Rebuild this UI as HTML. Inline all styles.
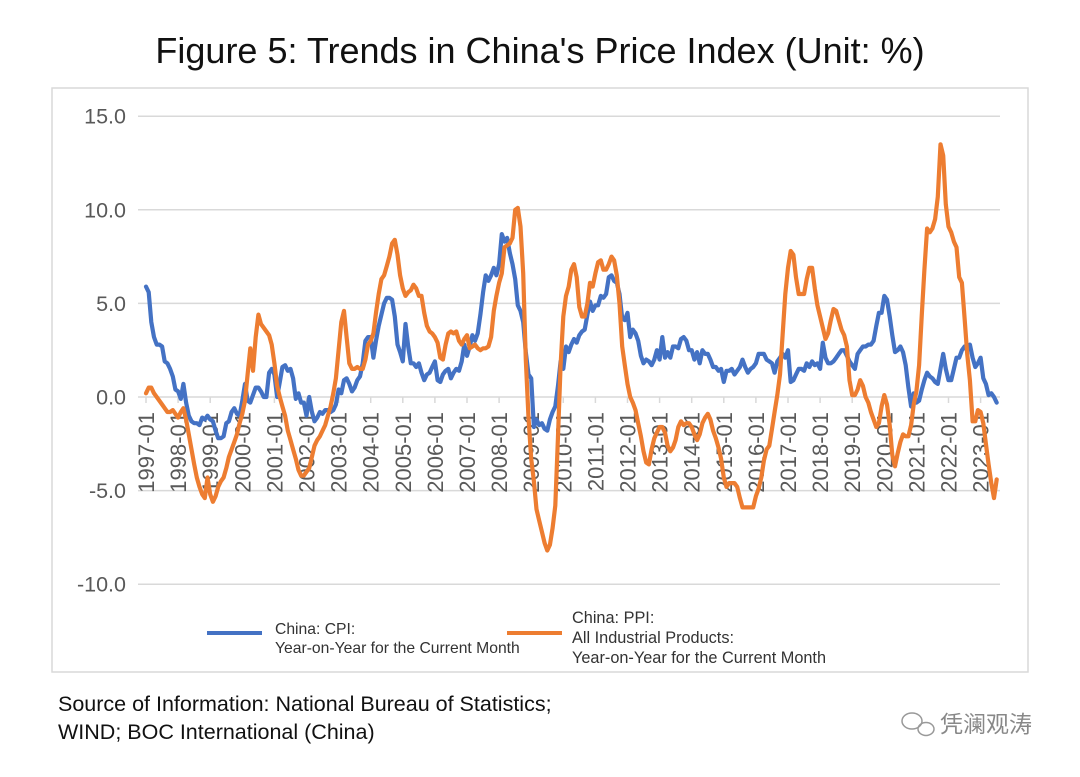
<!DOCTYPE html>
<html><head><meta charset="utf-8"><style>
body{margin:0;background:#fff;width:1080px;height:772px;overflow:hidden;font-family:"Liberation Sans",sans-serif;}
</style></head><body>
<svg id="c" width="1080" height="772" xmlns="http://www.w3.org/2000/svg">
<text x="540" y="63" text-anchor="middle" font-size="36" fill="#111">Figure 5: Trends in China's Price Index (Unit: %)</text>
<rect x="52" y="88" width="976" height="584" fill="none" stroke="#d9d9d9" stroke-width="1.5"/>
<g id="grid"></g><g id="yl"></g><g id="xl"></g><g id="series"></g>
<g>
<line x1="207" y1="633" x2="262" y2="633" stroke="#4472C4" stroke-width="4"/>
<text font-size="15.7" fill="#333"><tspan x="275" y="634">China: CPI:</tspan><tspan x="275" y="653">Year-on-Year for the Current Month</tspan></text>
<line x1="507" y1="633" x2="562" y2="633" stroke="#ED7D31" stroke-width="4"/>
<text font-size="16.3" fill="#333"><tspan x="572" y="623">China: PPI:</tspan><tspan x="572" y="643">All Industrial Products:</tspan><tspan x="572" y="663">Year-on-Year for the Current Month</tspan></text>
</g>
<text font-size="21.5" fill="#111"><tspan x="58" y="711">Source of Information: National Bureau of Statistics;</tspan><tspan x="58" y="739">WIND; BOC International (China)</tspan></text>
<g>
<ellipse cx="912" cy="721" rx="10" ry="8" fill="none" stroke="#999" stroke-width="1.5"/>
<ellipse cx="926" cy="729" rx="8" ry="6.5" fill="none" stroke="#999" stroke-width="1.5"/>
<text x="940" y="732" font-size="23" fill="#888" font-family="'Liberation Sans','Noto Sans CJK SC',sans-serif">凭澜观涛</text>
</g>
</svg>
<script>
const yTicks=[15,10,5,0,-5,-10];
const yTickLabels=["15.0","10.0","5.0","0.0","-5.0","-10.0"];
const xYears=[1997,1998,1999,2000,2001,2002,2003,2004,2005,2006,2007,2008,2009,2010,2011,2012,2013,2014,2015,2016,2017,2018,2019,2020,2021,2022,2023];
const cpi=[5.9,5.6,4.0,3.2,2.8,2.8,2.7,1.9,1.8,1.5,1.1,0.4,
0.3,-0.1,0.7,-0.3,-1.0,-1.3,-1.4,-1.4,-1.5,-1.1,-1.2,-1.0,
-1.2,-1.3,-1.8,-2.2,-2.2,-2.1,-1.4,-1.3,-0.8,-0.6,-0.9,-1.0,
-0.2,0.7,-0.2,-0.3,0.1,0.5,0.5,0.3,0.0,0.0,1.3,1.5,
1.2,0.0,0.8,1.6,1.7,1.4,1.5,1.0,-0.1,0.2,-0.3,-0.3,
-1.0,0.0,-0.8,-1.3,-1.1,-0.8,-0.9,-0.7,-0.7,-0.8,-0.7,-0.4,
0.4,0.2,0.9,1.0,0.7,0.3,0.5,0.9,1.1,1.8,3.0,3.2,
3.2,2.1,3.0,3.8,4.4,5.0,5.3,5.3,5.2,4.3,2.8,2.4,
1.9,3.9,2.7,1.8,1.8,1.6,1.8,1.3,0.9,1.2,1.3,1.6,
1.9,0.9,0.8,1.2,1.4,1.5,1.0,1.3,1.5,1.4,1.9,2.8,
2.2,2.7,3.3,3.0,3.4,4.4,5.6,6.5,6.2,6.5,6.9,6.5,
7.1,8.7,8.3,8.5,7.7,7.1,6.3,4.9,4.6,4.0,2.4,1.2,
1.0,-1.6,-1.2,-1.5,-1.4,-1.7,-1.8,-1.2,-0.8,-0.5,0.6,1.9,
1.5,2.7,2.4,2.8,3.1,2.9,3.3,3.5,3.6,4.4,5.1,4.6,
4.9,4.9,5.4,5.3,5.5,6.4,6.5,6.2,6.1,5.5,4.2,4.1,
4.5,3.2,3.6,3.4,3.0,2.2,1.8,2.0,1.9,1.7,2.0,2.5,
2.0,3.2,2.1,2.4,2.1,2.7,2.7,2.6,3.1,3.2,3.0,2.5,
2.5,2.0,2.4,1.8,2.5,2.3,2.3,2.0,1.6,1.6,1.4,1.5,
0.8,1.4,1.4,1.5,1.2,1.4,1.6,2.0,1.6,1.3,1.5,1.6,
1.8,2.3,2.3,2.3,2.0,1.9,1.8,1.3,1.9,2.1,2.3,2.1,
2.5,0.8,0.9,1.2,1.5,1.5,1.4,1.8,1.6,1.9,1.7,1.8,
1.5,2.9,2.1,1.8,1.8,1.9,2.1,2.3,2.5,2.5,2.2,1.9,
1.7,1.5,2.3,2.5,2.7,2.7,2.8,2.8,3.0,3.8,4.5,4.5,
5.4,5.2,4.3,3.3,2.4,2.5,2.7,2.4,1.7,0.5,-0.5,0.2,
-0.3,-0.2,0.4,0.9,1.3,1.1,1.0,0.8,0.7,1.5,2.3,1.5,
0.9,0.9,1.5,2.1,2.1,2.5,2.7,2.5,2.8,2.1,1.6,1.8,
2.1,1.0,0.7,0.1,0.2,0.0,-0.3];
const ppi=[0.2,0.5,0.5,0.2,0.0,-0.2,-0.4,-0.6,-0.8,-0.8,-0.7,-0.9,
-1.1,-0.8,-0.6,-1.2,-2.0,-2.8,-3.6,-4.3,-4.8,-5.2,-5.4,-4.3,
-5.2,-5.6,-5.3,-4.8,-4.5,-4.3,-3.8,-3.2,-2.8,-2.4,-2.0,-1.4,
-0.9,-0.2,1.2,2.6,1.4,3.2,4.4,3.9,3.7,3.5,3.3,2.8,
1.8,0.6,0.0,-0.5,-1.0,-1.8,-2.3,-2.8,-3.3,-3.9,-4.2,-4.2,
-4.0,-3.8,-3.2,-2.6,-2.3,-2.1,-1.8,-1.5,-1.0,-0.5,0.2,1.0,
2.5,4.0,4.6,3.2,1.8,1.5,1.5,1.6,1.5,1.5,2.0,2.8,
3.0,3.4,4.5,5.5,6.3,6.5,7.0,7.5,8.2,8.4,7.6,6.5,
5.8,5.4,5.6,5.7,6.0,5.8,5.4,5.4,4.5,3.8,3.5,3.4,
3.2,2.9,2.1,2.0,2.8,3.4,3.5,3.4,3.5,3.0,2.8,3.1,
3.3,2.6,2.7,2.8,2.6,2.5,2.6,2.6,2.7,3.2,4.6,5.4,
6.1,6.6,8.0,8.1,8.2,8.5,10.0,10.1,9.1,6.6,2.0,-1.1,
-3.3,-4.5,-6.0,-6.6,-7.2,-7.8,-8.2,-7.9,-7.0,-5.8,-2.1,1.7,
4.3,5.4,5.9,6.8,7.1,6.4,4.8,4.3,4.3,5.0,6.1,5.9,
6.6,7.2,7.3,6.8,6.8,7.1,7.5,7.3,6.5,5.0,2.7,1.7,
0.7,0.0,-0.3,-0.7,-1.4,-2.1,-2.9,-3.5,-3.6,-2.8,-2.2,-1.9,
-1.6,-1.6,-1.9,-2.6,-2.9,-2.7,-2.3,-1.6,-1.3,-1.5,-1.4,-1.4,
-1.6,-2.0,-2.3,-2.0,-1.4,-1.1,-0.9,-1.2,-1.8,-2.2,-2.7,-3.3,
-4.3,-4.8,-4.6,-4.6,-4.6,-4.8,-5.4,-5.9,-5.9,-5.9,-5.9,-5.9,
-5.3,-4.9,-4.3,-3.4,-2.8,-2.6,-1.7,-0.8,0.1,1.2,3.3,5.5,
6.9,7.8,7.6,6.4,5.5,5.5,5.5,6.3,6.9,6.9,5.8,4.9,
4.3,3.7,3.1,3.4,4.1,4.7,4.6,4.1,3.6,3.3,2.7,0.9,
0.1,0.1,0.4,0.9,0.6,0.0,-0.3,-0.8,-1.2,-1.6,-1.4,-0.5,
0.1,-0.4,-1.5,-3.1,-3.7,-3.0,-2.4,-2.0,-2.1,-2.1,-1.5,-0.4,
0.3,1.7,4.4,6.8,9.0,8.8,9.0,9.5,10.7,13.5,12.9,10.3,
9.1,8.8,8.3,8.0,6.4,6.1,4.2,2.3,0.9,-1.3,-1.3,-0.7,
-0.8,-1.4,-2.5,-3.6,-4.6,-5.4,-4.4];

const NS="http://www.w3.org/2000/svg";
const yScale=v=>397-v*18.72;
const xScale=m=>146+m*32.1/12;
function mk(tag,attrs,parent){const e=document.createElementNS(NS,tag);for(const k in attrs)e.setAttribute(k,attrs[k]);parent.appendChild(e);return e;}
const grid=document.getElementById('grid'),yl=document.getElementById('yl'),xl=document.getElementById('xl'),ser=document.getElementById('series');
yTicks.forEach((v,i)=>{
  const g=mk('line',{x1:138,x2:1000,y1:yScale(v),y2:yScale(v),stroke:'#d9d9d9','stroke-width':1.5},grid);
  
  
  const t=mk('text',{x:126,y:yScale(v)+7.5,'text-anchor':'end','font-size':21.5,fill:'#595959'},yl);
  t.textContent=yTickLabels[i];
  
  
});
xYears.forEach(yr=>{
  const x=xScale((yr-1997)*12);
  const tk=mk('line',{x1:x,x2:x,y1:397,y2:403,stroke:'#d9d9d9','stroke-width':1.5},xl);
  
  
  const t=mk('text',{x:0,y:0,'text-anchor':'end','font-size':22,fill:'#595959',transform:`translate(${x+8},412) rotate(-90)`},xl);
  t.textContent=yr+'-01';
  
  
});
function line(arr,color,name){
  const d=arr.map((v,i)=>(i?'L':'M')+xScale(i).toFixed(1)+','+yScale(v).toFixed(1)).join('');
  const p=mk('path',{d:d,fill:'none',stroke:color,'stroke-width':4.2,'stroke-linejoin':'round','stroke-linecap':'round'},ser);
  
  
}
line(cpi,'#4472C4','cpi-line');
line(ppi,'#ED7D31','ppi-line');
</script>
</body></html>
